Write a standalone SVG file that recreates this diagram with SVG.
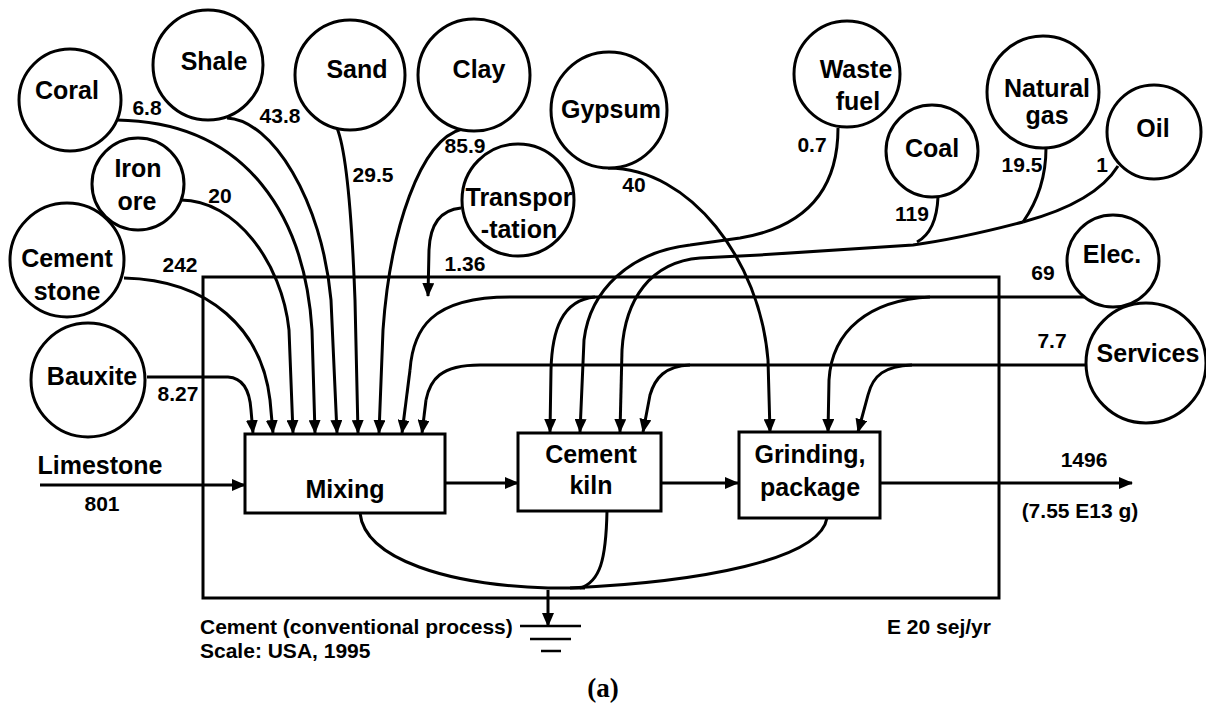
<svg xmlns="http://www.w3.org/2000/svg" width="1206" height="717" viewBox="0 0 1206 717">
<style>
.c{fill:#fff;stroke:#000;stroke-width:3}
.b{fill:#fff;stroke:#000;stroke-width:3}
.t{font-family:"Liberation Sans",Arial,sans-serif;font-weight:bold;font-size:25px;fill:#000;text-anchor:middle}
.n{font-family:"Liberation Sans",Arial,sans-serif;font-weight:bold;font-size:21px;fill:#000;text-anchor:middle}
.s{font-family:"Liberation Sans",Arial,sans-serif;font-weight:bold;font-size:21px;fill:#000}
.l{fill:none;stroke:#000;stroke-width:3}
.a{fill:none;stroke:#000;stroke-width:3;marker-end:url(#ah)}
.g{fill:none;stroke:#000;stroke-width:2.5}
</style>
<defs>
<marker id="ah" viewBox="0 0 14 12" refX="13" refY="6" markerWidth="14" markerHeight="12" markerUnits="userSpaceOnUse" orient="auto"><path d="M0,0 L14,6 L0,12 z" fill="#000"/></marker>
</defs>
<rect width="1206" height="717" fill="#fff"/>

<g id="system">
<rect x="203" y="277" width="796" height="321" fill="none" stroke="#000" stroke-width="3"/>
</g>

<g id="connectors">
<path class="a" d="M147 377 L228 377 C245 378 250 395 251 410 L253 433"/>
<path class="a" d="M124 278 C210 280 262 330 270 400 L273 433"/>
<path class="a" d="M181 200 C235 200 282 262 289 330 L293 433"/>
<path class="a" d="M117 120 C250 122 305 220 312 330 L315 433"/>
<path class="a" d="M227 118 C272 120 322 200 331 300 L337 433"/>
<path class="a" d="M337 128 C346 150 352 220 355 300 L358 433"/>
<path class="a" d="M462 129 C420 140 390 230 383 330 L379 433"/>
<path class="a" d="M461 208 C440 210 430 225 429 250 L428 296"/>
<path class="l" d="M1084 297 L510 297 C430 297 413 330 410 370"/>
<path class="a" d="M410 370 L402 433"/>
<path class="a" d="M595 297 C562 300 552 330 551 370 L550 432"/>
<path class="a" d="M930 297 C870 300 832 330 829 380 L828 432"/>
<path class="l" d="M1086 365 L480 365 C440 365 430 380 426 400"/>
<path class="a" d="M426 400 L422 433"/>
<path class="a" d="M690 365 C665 366 655 378 650 395 L643 432"/>
<path class="a" d="M912 365 C885 366 873 375 868 395 L858 432"/>
<path class="a" d="M838 128 C838 195 800 228 740 238 L690 245 C630 252 590 290 584 340 L580 432"/>
<path class="l" d="M1118 166 C1100 195 1060 212 1023 222"/>
<path class="l" d="M1046 148 C1046 180 1035 205 1023 222"/>
<path class="l" d="M938 197 C937 220 930 235 917 242"/>
<path class="l" stroke-width="4" d="M1023 222 C985 232 950 240 913 245 L760 255 L700 258 C650 262 625 300 622 350"/>
<path class="a" d="M622 350 L620 432"/>
<path class="a" d="M608 168 C690 168 760 260 768 360 L770 432"/>
<path class="a" d="M40 485 L245 485"/>
<path class="a" d="M445 483 L518 483"/>
<path class="a" d="M661 483 L738 483"/>
<path class="a" d="M880 483 L1132 483"/>
<path class="l" d="M360 513 C365 560 450 585 548 588 L585 588"/>
<path class="l" d="M607 511 C606 560 600 582 580 588"/>
<path class="l" d="M827 518 C820 560 700 582 570 588"/>
<path class="a" d="M548 590 L548 626"/>
</g>

<g id="ground">
<path class="g" d="M520 626 L581 626 M530 639 L571 639 M541 651 L561 651"/>
</g>

<g id="coral"><circle class="c" cx="70" cy="100" r="51"/><text class="t" x="67" y="99">Coral</text></g>
<g id="shale"><circle class="c" cx="208" cy="65" r="55"/><text class="t" x="214" y="70">Shale</text></g>
<g id="sand"><circle class="c" cx="350" cy="75" r="55"/><text class="t" x="357" y="78">Sand</text></g>
<g id="clay"><circle class="c" cx="474" cy="75" r="56"/><text class="t" x="479" y="78">Clay</text></g>
<g id="gypsum"><circle class="c" cx="609" cy="110" r="58"/><text class="t" x="611" y="118">Gypsum</text></g>
<g id="transportation"><circle class="c" cx="518" cy="200" r="56"/><text class="t" x="519" y="206">Transpor</text><text class="t" x="519" y="238">-tation</text></g>
<g id="iron-ore"><circle class="c" cx="138" cy="184" r="46"/><text class="t" x="138" y="177">Iron</text><text class="t" x="137" y="210">ore</text></g>
<g id="cement-stone"><circle class="c" cx="67" cy="260" r="57"/><text class="t" x="67" y="267">Cement</text><text class="t" x="67" y="300">stone</text></g>
<g id="bauxite"><circle class="c" cx="88" cy="380" r="57"/><text class="t" x="92" y="385">Bauxite</text></g>
<g id="waste-fuel"><circle class="c" cx="847" cy="74" r="53"/><text class="t" x="856" y="78">Waste</text><text class="t" x="858" y="110">fuel</text></g>
<g id="coal"><circle class="c" cx="932" cy="151" r="46"/><text class="t" x="932" y="157">Coal</text></g>
<g id="natural-gas"><circle class="c" cx="1043" cy="92" r="56"/><text class="t" x="1047" y="97">Natural</text><text class="t" x="1047" y="124">gas</text></g>
<g id="oil"><circle class="c" cx="1154" cy="132" r="47"/><text class="t" x="1153" y="137">Oil</text></g>
<g id="elec"><circle class="c" cx="1113" cy="261" r="46"/><text class="t" x="1112" y="263">Elec.</text></g>
<g id="services"><circle class="c" cx="1146" cy="363" r="60"/><text class="t" x="1148" y="362">Services</text></g>

<g id="mixing"><rect class="b" x="245" y="434" width="200" height="79"/><text class="t" x="345" y="498">Mixing</text></g>
<g id="cement-kiln"><rect class="b" x="518" y="433" width="143" height="78"/><text class="t" x="591" y="463">Cement</text><text class="t" x="591" y="494">kiln</text></g>
<g id="grinding"><rect class="b" x="739" y="432" width="141" height="86"/><text class="t" x="810" y="463">Grinding,</text><text class="t" x="810" y="496">package</text></g>

<g id="labels">
<text class="n" x="147" y="115">6.8</text>
<text class="n" x="280" y="123">43.8</text>
<text class="n" x="220" y="203">20</text>
<text class="n" x="373" y="182">29.5</text>
<text class="n" x="465" y="153">85.9</text>
<text class="n" x="180" y="272">242</text>
<text class="n" x="178" y="401">8.27</text>
<text class="n" x="465" y="271">1.36</text>
<text class="n" x="634" y="192">40</text>
<text class="n" x="812" y="152">0.7</text>
<text class="n" x="912" y="221">119</text>
<text class="n" x="1022" y="172">19.5</text>
<text class="n" x="1102" y="172">1</text>
<text class="n" x="1043" y="280">69</text>
<text class="n" x="1052" y="348">7.7</text>
<text class="n" x="1084" y="467">1496</text>
<text class="n" x="1080" y="518" font-size="22">(7.55 E13 g)</text>
<text class="t" x="100" y="474">Limestone</text>
<text class="n" x="102" y="511">801</text>
<text class="s" x="200" y="634">Cement (conventional process)</text>
<text class="s" x="200" y="658">Scale: USA, 1995</text>
<text class="s" x="887" y="634">E 20 sej/yr</text>
<text x="603" y="697" font-family="'Liberation Serif','Times New Roman',serif" font-weight="bold" font-size="27" text-anchor="middle">(a)</text>
</g>
</svg>
